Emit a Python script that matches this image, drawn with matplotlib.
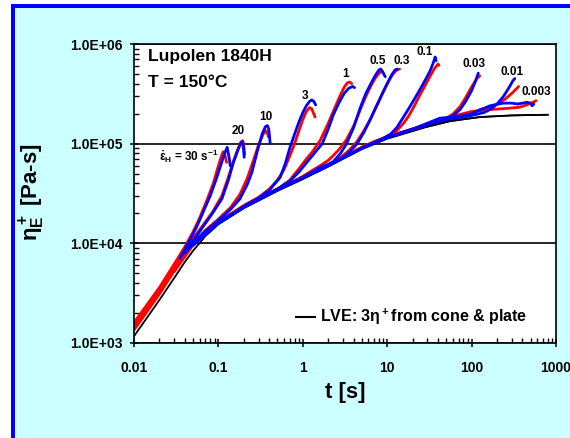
import matplotlib
matplotlib.use("Agg")
import matplotlib.pyplot as plt
from matplotlib.patches import Rectangle
from matplotlib.lines import Line2D
from matplotlib.ticker import LogLocator, FuncFormatter, NullFormatter


# Data: (time [s], eta_E+ [Pa s]) for each Hencky rate
LVE_T = [0.01, 0.02, 0.03, 0.04, 0.05, 0.07, 0.1, 0.2, 0.5, 1, 2, 5, 10, 30, 55, 125, 300, 500, 800]
LVE_ETA = [1.17e3, 2.7e3, 4.5e3, 6.5e3, 8.4e3, 1.18e4, 1.55e4, 2.25e4, 3.35e4, 4.4e4, 5.9e4, 8.8e4,
           1.12e5, 1.48e5, 1.68e5, 1.85e5, 1.92e5, 1.94e5, 1.95e5]

RATES = ["30", "20", "10", "3", "1", "0.5", "0.3", "0.1", "0.03", "0.01", "0.003"]

RED_30_T = [0.01, 0.02, 0.03, 0.04, 0.05, 0.06, 0.073, 0.087, 0.1, 0.108, 0.114, 0.12, 0.125]
RED_30_ETA = [1.6e3, 3.6e3, 6.2e3, 9.2e3, 1.3e4, 1.8e4, 2.7e4, 4.0e4, 6.0e4, 7.4e4, 8.3e4, 7.6e4, 6.5e4]
BLUE_30_T = [0.035, 0.045, 0.055, 0.065, 0.08, 0.095, 0.11, 0.12, 0.127, 0.131, 0.135, 0.138]
BLUE_30_ETA = [7.0e3, 1.05e4, 1.45e4, 2.0e4, 3.0e4, 4.5e4, 6.6e4, 8.2e4, 9.2e4, 8.0e4, 7.0e4, 6.0e4]

RED_20_T = [0.01, 0.02, 0.03, 0.04, 0.05, 0.065, 0.085, 0.11, 0.13, 0.15, 0.17, 0.185, 0.195, 0.2, 0.205]
RED_20_ETA = [1.5e3, 3.4e3, 5.8e3, 8.5e3, 1.12e4, 1.5e4, 2.05e4, 3.0e4, 4.5e4, 6.6e4, 8.8e4, 1.04e5,
              1.07e5, 9.5e4, 7.8e4]
BLUE_20_T = [0.04, 0.05, 0.065, 0.085, 0.11, 0.13, 0.15, 0.17, 0.185, 0.193, 0.198, 0.202]
BLUE_20_ETA = [8.2e3, 1.05e4, 1.45e4, 2.0e4, 2.8e4, 4.2e4, 6.4e4, 8.6e4, 1.02e5, 1.05e5, 9.0e4, 7.3e4]

RED_10_T = [0.01, 0.02, 0.03, 0.04, 0.05, 0.07, 0.1, 0.14, 0.18, 0.22, 0.26, 0.3, 0.34, 0.365, 0.38, 0.39]
RED_10_ETA = [1.45e3, 3.3e3, 5.6e3, 8.2e3, 1.0e4, 1.35e4, 1.75e4, 2.3e4, 3.1e4, 4.5e4, 6.8e4, 9.8e4,
              1.25e5, 1.35e5, 1.3e5, 1.17e5]
BLUE_10_T = [0.04, 0.05, 0.07, 0.1, 0.14, 0.18, 0.22, 0.25, 0.29, 0.33, 0.36, 0.38, 0.395, 0.405, 0.41]
BLUE_10_ETA = [8.0e3, 1.0e4, 1.32e4, 1.7e4, 2.2e4, 2.8e4, 3.9e4, 5.2e4, 8.5e4, 1.25e5, 1.48e5, 1.52e5,
               1.4e5, 1.15e5, 1.0e5]

RED_3_T = [0.01, 0.02, 0.03, 0.05, 0.07, 0.1, 0.15, 0.2, 0.3, 0.4, 0.5, 0.6, 0.7, 0.8, 0.9, 1.0, 1.1,
           1.2, 1.27, 1.33, 1.4]
RED_3_ETA = [1.35e3, 3.1e3, 5.3e3, 9.8e3, 1.3e4, 1.65e4, 2.05e4, 2.4e4, 2.9e4, 3.5e4, 4.3e4, 5.5e4,
             7.5e4, 1.0e5, 1.35e5, 1.75e5, 2.1e5, 2.3e5, 2.25e5, 2.05e5, 1.85e5]
BLUE_3_T = [0.045, 0.07, 0.1, 0.15, 0.2, 0.3, 0.4, 0.54, 0.62, 0.7, 0.8, 0.9, 1.0, 1.1, 1.2, 1.28,
            1.35, 1.42]
BLUE_3_ETA = [9.0e3, 1.28e4, 1.62e4, 2.0e4, 2.35e4, 2.85e4, 3.4e4, 4.6e4, 6.3e4, 9.0e4, 1.25e5, 1.65e5,
              2.05e5, 2.4e5, 2.65e5, 2.75e5, 2.65e5, 2.45e5]

RED_1_T = [0.03, 0.05, 0.07, 0.1, 0.15, 0.2, 0.3, 0.5, 0.7, 0.9, 1.1, 1.3, 1.6, 2.0, 2.4, 2.8, 3.1,
           3.4, 3.6, 3.8]
RED_1_ETA = [5.2e3, 9.6e3, 1.28e4, 1.62e4, 2.0e4, 2.3e4, 2.8e4, 3.5e4, 4.3e4, 5.6e4, 7.0e4, 8.3e4,
             1.07e5, 1.6e5, 2.3e5, 3.1e5, 3.7e5, 4.1e5, 4.15e5, 4.0e5]
BLUE_1_T = [0.05, 0.07, 0.1, 0.15, 0.2, 0.3, 0.5, 0.7, 0.9, 1.1, 1.3, 1.7, 2.0, 2.3, 2.7, 3.1, 3.5,
            3.9, 4.1]
BLUE_1_ETA = [9.8e3, 1.28e4, 1.62e4, 2.0e4, 2.3e4, 2.8e4, 3.5e4, 4.2e4, 5.2e4, 6.4e4, 7.6e4, 1.0e5,
              1.4e5, 1.95e5, 2.6e5, 3.2e5, 3.6e5, 3.75e5, 3.65e5]

RED_05_T = [0.05, 0.1, 0.2, 0.3, 0.5, 0.7, 1.0, 1.3, 1.6, 2.0, 2.3, 2.7, 3.3, 4.0, 4.8, 5.6, 6.5, 7.3,
            8.0, 8.6, 9.0]
RED_05_ETA = [1.0e4, 1.65e4, 2.35e4, 2.8e4, 3.5e4, 4.0e4, 4.7e4, 5.4e4, 6.0e4, 6.8e4, 7.6e4, 8.8e4,
              1.1e5, 1.5e5, 2.2e5, 3.0e5, 3.9e5, 4.6e5, 5.1e5, 5.3e5, 5.1e5]
BLUE_05_T = [0.05, 0.1, 0.2, 0.3, 0.5, 0.7, 1.0, 1.3, 1.6, 2.0, 2.3, 2.8, 3.3, 4.0, 4.8, 5.6, 6.5,
             7.3, 8.0, 8.4, 8.8, 9.2, 9.5]
BLUE_05_ETA = [9.5e3, 1.6e4, 2.3e4, 2.75e4, 3.45e4, 3.95e4, 4.6e4, 5.2e4, 5.8e4, 6.2e4, 6.6e4, 8.0e4,
               1.0e5, 1.45e5, 2.3e5, 3.2e5, 4.1e5, 4.9e5, 5.5e5, 5.6e5, 5.3e5, 4.9e5, 4.7e5]

RED_03_T = [0.1, 0.2, 0.3, 0.5, 0.7, 1.0, 1.5, 2.0, 2.5, 3.0, 3.6, 4.4, 5.3, 6.3, 7.5, 8.8, 10.0,
            11.5, 13.0, 14.0]
RED_03_ETA = [1.65e4, 2.35e4, 2.8e4, 3.5e4, 4.0e4, 4.6e4, 5.4e4, 6.1e4, 6.8e4, 7.6e4, 8.7e4, 1.05e5,
              1.35e5, 1.75e5, 2.4e5, 3.2e5, 4.0e5, 4.9e5, 5.5e5, 5.6e5]
BLUE_03_T = [0.1, 0.2, 0.3, 0.5, 0.7, 1.0, 1.5, 2.0, 2.5, 3.0, 3.6, 4.4, 5.3, 6.3, 7.5, 8.8, 10.0,
             11.3, 12.4, 13.2]
BLUE_03_ETA = [1.6e4, 2.3e4, 2.75e4, 3.45e4, 3.95e4, 4.6e4, 5.3e4, 6.0e4, 6.6e4, 7.3e4, 8.3e4, 1.0e5,
               1.3e5, 1.75e5, 2.4e5, 3.2e5, 4.0e5, 4.9e5, 5.5e5, 5.6e5]

RED_01_T = [0.3, 0.5, 1, 2, 3, 5, 7, 9, 11, 13, 15.6, 18, 21, 24.5, 28, 32, 36, 40, 41]
RED_01_ETA = [2.8e4, 3.5e4, 4.6e4, 6.1e4, 7.3e4, 9.2e4, 1.05e5, 1.14e5, 1.23e5, 1.35e5, 1.6e5, 1.9e5,
              2.4e5, 3.1e5, 3.8e5, 4.7e5, 5.6e5, 6.3e5, 6.1e5]
BLUE_01_T = [0.3, 0.5, 1, 2, 3, 5, 7, 9, 11, 13, 15.6, 18, 21, 24.5, 28, 32, 35, 37, 38]
BLUE_01_ETA = [2.75e4, 3.45e4, 4.55e4, 6.0e4, 7.2e4, 9.0e4, 1.03e5, 1.13e5, 1.25e5, 1.45e5, 1.85e5,
               2.25e5, 2.8e5, 3.5e5, 4.3e5, 5.3e5, 6.4e5, 7.4e5, 6.8e5]

RED_003_T = [1, 2, 5, 10, 20, 30, 40, 50, 60, 73, 85, 100, 115, 125]
RED_003_ETA = [4.6e4, 6.1e4, 9.2e4, 1.17e5, 1.4e5, 1.55e5, 1.68e5, 1.8e5, 1.98e5, 2.35e5, 2.9e5, 3.7e5,
               4.5e5, 4.8e5]
BLUE_003_T = [1, 2, 5, 10, 20, 30, 40, 50, 60, 73, 85, 100, 112, 120]
BLUE_003_ETA = [4.55e4, 6.0e4, 9.0e4, 1.15e5, 1.4e5, 1.55e5, 1.65e5, 1.75e5, 1.9e5, 2.2e5, 2.65e5,
                3.4e5, 4.3e5, 5.1e5]

RED_0001_T = [5, 10, 20, 40, 70, 100, 125, 180, 250, 300, 350, 360]
RED_0001_ETA = [9.2e4, 1.17e5, 1.4e5, 1.66e5, 1.85e5, 2.0e5, 2.2e5, 2.35e5, 2.8e5, 3.2e5, 3.65e5, 3.75e5]
BLUE_0001_T = [5, 10, 20, 40, 70, 100, 140, 165, 200, 240, 280, 310, 325]
BLUE_0001_ETA = [9.0e4, 1.15e5, 1.4e5, 1.63e5, 1.8e5, 1.92e5, 2.05e5, 2.2e5, 2.5e5, 3.0e5, 3.7e5, 4.3e5,
                 4.5e5]

RED_0003_T = [10, 20, 40, 70, 100, 165, 250, 370, 450, 560, 580]
RED_0003_ETA = [1.17e5, 1.4e5, 1.66e5, 1.95e5, 2.1e5, 2.2e5, 2.25e5, 2.32e5, 2.45e5, 2.65e5, 2.7e5]
BLUE_0003_T = [10, 20, 42, 78, 100, 165, 235, 300, 350, 400, 450, 500, 520, 535, 545]
BLUE_0003_ETA = [1.15e5, 1.4e5, 1.8e5, 1.9e5, 2.0e5, 2.4e5, 2.55e5, 2.55e5, 2.5e5, 2.55e5, 2.6e5,
                 2.55e5, 2.4e5, 2.45e5, 2.5e5]

# label position (t, eta) for each rate
LABEL_T = [0.02, 0.17, 0.37, 1.06, 3.25, 7.8, 15, 28, 107, 301, 580]
LABEL_ETA = [7.5e4, 1.34e5, 1.85e5, 3.0e5, 5.0e5, 6.7e5, 6.7e5, 8.3e5, 6.3e5, 5.2e5, 3.3e5]

RED_CURVES = [(RED_30_T, RED_30_ETA), (RED_20_T, RED_20_ETA), (RED_10_T, RED_10_ETA),
              (RED_3_T, RED_3_ETA), (RED_1_T, RED_1_ETA), (RED_05_T, RED_05_ETA),
              (RED_03_T, RED_03_ETA), (RED_01_T, RED_01_ETA), (RED_003_T, RED_003_ETA),
              (RED_0001_T, RED_0001_ETA), (RED_0003_T, RED_0003_ETA)]
BLUE_CURVES = [(BLUE_30_T, BLUE_30_ETA), (BLUE_20_T, BLUE_20_ETA), (BLUE_10_T, BLUE_10_ETA),
               (BLUE_3_T, BLUE_3_ETA), (BLUE_1_T, BLUE_1_ETA), (BLUE_05_T, BLUE_05_ETA),
               (BLUE_03_T, BLUE_03_ETA), (BLUE_01_T, BLUE_01_ETA), (BLUE_003_T, BLUE_003_ETA),
               (BLUE_0001_T, BLUE_0001_ETA), (BLUE_0003_T, BLUE_0003_ETA)]

W, H = 570, 438
CYAN = "#CCFFFF"


def setup_fonts():
    plt.rcParams['font.family'] = ['Liberation Sans', 'DejaVu Sans']
    plt.rcParams['font.weight'] = 'bold'
    plt.rcParams['mathtext.fontset'] = 'custom'
    plt.rcParams['mathtext.rm'] = 'Liberation Sans:bold'
    plt.rcParams['mathtext.it'] = 'Liberation Sans:bold'
    plt.rcParams['mathtext.bf'] = 'Liberation Sans:bold'
    plt.rcParams['mathtext.default'] = 'regular'


def draw_background(fig):
    # blue frame (top and left), pale cyan slide behind the plot
    fig.add_artist(Rectangle((11 / W, 0), 1, 1 - 4 / H, transform=fig.transFigure,
                             facecolor="#0000FF", edgecolor="none", zorder=-3))
    fig.add_artist(Rectangle((15 / W, 0), 1, 1 - 8 / H, transform=fig.transFigure,
                             facecolor=CYAN, edgecolor="none", zorder=-2))


def main():
    setup_fonts()
    fig = plt.figure(figsize=(W / 100, H / 100), dpi=100, facecolor="white")
    draw_background(fig)
    ax = fig.add_axes([134 / W, 1 - 343 / H, 422 / W, 299 / H])
    ax.set_facecolor("white")

    ax.plot(LVE_T, LVE_ETA, color="black", lw=1.3, zorder=1)
    for (rt, re), (bt, be) in zip(RED_CURVES, BLUE_CURVES):
        ax.plot(rt, re, color="#FF0000", lw=2.0, zorder=2, solid_capstyle="round")
        ax.plot(bt, be, color="#0000FF", lw=2.0, zorder=3, solid_capstyle="round")
    ax.plot(LVE_T[-6:], LVE_ETA[-6:], color="black", lw=1.2, zorder=4)

    ax.set_xscale("log")
    ax.set_yscale("log")
    ax.set_xlim(0.01, 1000)
    ax.set_ylim(1e3, 1e6)

    ax.grid(axis="y", which="major", color="black", lw=1.2)
    ax.set_axisbelow(True)

    ax.xaxis.set_major_locator(LogLocator(base=10, numticks=10))
    ax.xaxis.set_minor_locator(LogLocator(base=10, subs=range(2, 10), numticks=10))
    ax.yaxis.set_minor_locator(LogLocator(base=10, subs=range(2, 10), numticks=10))
    ax.xaxis.set_major_formatter(FuncFormatter(lambda v, p: f"{v:g}"))
    ax.yaxis.set_major_formatter(FuncFormatter(lambda v, p: f"{v:.1E}"))
    ax.xaxis.set_minor_formatter(NullFormatter())
    ax.yaxis.set_minor_formatter(NullFormatter())
    ax.tick_params(which="major", direction="inout", length=6, width=1.1, labelsize=10)
    ax.tick_params(which="minor", direction="in", length=3.5, width=1.0)
    ax.tick_params(axis="x", which="major", pad=10)
    ax.tick_params(axis="y", which="major", pad=5)
    for s in ax.spines.values():
        s.set_linewidth(1.2)

    ax.set_xlabel("t [s]", fontsize=16, fontweight="bold")
    ax.xaxis.set_label_coords(0.5, -0.13)
    ax.set_ylabel("η$_E^+$ [Pa-s]", fontsize=16, fontweight="bold")
    ax.yaxis.set_label_coords(-0.205, 0.505)

    ax.text(0.033, 0.957, "Lupolen 1840H", transform=ax.transAxes, fontsize=12.5,
            fontweight="bold", va="center", ha="left")
    ax.text(0.033, 0.87, "T = 150°C", transform=ax.transAxes, fontsize=12.5,
            fontweight="bold", va="center", ha="left")

    for i, rate in enumerate(RATES):
        if i == 0:
            ax.text(LABEL_T[i], LABEL_ETA[i], r"$\dot{\varepsilon}_H$ = 30 s$^{-1}$",
                    fontsize=8.5, fontweight="bold", ha="left", va="center")
        else:
            ax.text(LABEL_T[i], LABEL_ETA[i], rate, fontsize=8.5, fontweight="bold",
                    ha="center", va="center")

    handle = Line2D([], [], color="black", lw=1.5)
    ax.legend([handle], ["LVE: 3η$^+$from cone & plate"], loc="lower right",
              bbox_to_anchor=(0.965, 0.005), frameon=False, handlelength=1.2,
              handletextpad=0.3, prop={"size": 11.5, "weight": "bold"})

    fig.savefig("out.png", dpi=100, facecolor=fig.get_facecolor())


if __name__ == "__main__":
    main()
